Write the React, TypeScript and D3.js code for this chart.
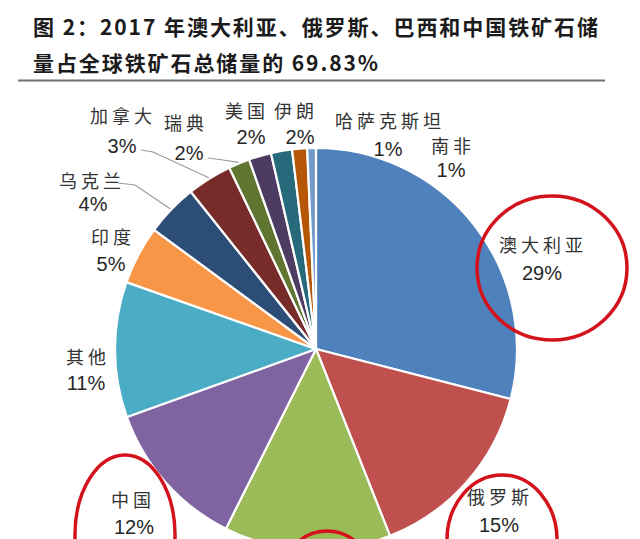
import React from "react";
import * as d3 from "d3";

// ---- data ----
const countries = ["澳大利亚", "俄罗斯", "巴西", "中国", "其他", "印度", "乌克兰", "加拿大", "瑞典", "美国", "伊朗", "哈萨克斯坦", "南非"];
const shares = [29, 15, 13.4, 12.1, 10.9, 4.7, 4.2, 3.6, 1.7, 1.8, 1.7, 1.2, 0.7];
const pctLabels = ["29%", "15%", "14%", "12%", "11%", "5%", "4%", "3%", "2%", "2%", "2%", "1%", "1%"];
const titleLines = ["图 2：2017 年澳大利亚、俄罗斯、巴西和中国铁矿石储", "量占全球铁矿石总储量的 69.83%"];
const highlighted = ["澳大利亚", "俄罗斯", "巴西", "中国"];

// ---- layout (not data) ----
const W = 640, H = 539;
const cx = 316, cy = 349, R = 201;
const colors = ["#4F81BD", "#C0504D", "#9BBB59", "#8064A2", "#4BACC6", "#F79646", "#2C4D75", "#772C2A", "#5F7530", "#4D3B62", "#276A7C", "#B65708", "#729ACA"];
// label placement: [x, nameBaseline, pctX, pctBaseline]
const labelPos: Record<string, number[] | null> = {
  "澳大利亚": [541, 252, 542, 280],
  "俄罗斯": [498, 504, 499, 532],
  "巴西": null,
  "中国": [131, 507, 134, 534],
  "其他": [86, 364, 86, 390],
  "印度": [111, 244, 111, 271],
  "乌克兰": [90, 188, 93, 211],
  "加拿大": [121, 123, 122, 153],
  "瑞典": [184, 130, 189, 160],
  "美国": [245, 118, 251, 144],
  "伊朗": [294, 118, 300, 144],
  "哈萨克斯坦": [388, 128, 388, 156],
  "南非": [451, 153, 451, 177],
};
// leader lines: start point, elbow, then to slice edge
const leaders: Record<string, number[]> = {
  "加拿大": [141, 150, 153, 152],
  "瑞典": [208, 158, 223, 160],
  "乌克兰": [118, 183, 135, 185],
};
const circles: Record<string, number[]> = {
  "澳大利亚": [552, 268, 75, 72],
  "俄罗斯": [502, 540, 55, 65],
  "巴西": [327, 585, 48, 54],
  "中国": [125, 535, 50, 80],
};

export default function App() {
  const data = countries.map((c, i) => ({ name: c, value: shares[i], pct: pctLabels[i], color: colors[i] }));
  const pie = d3.pie<any>().sort(null).value((d: any) => d.value).startAngle(0).endAngle(2 * Math.PI);
  const arcs = pie(data);
  const arc = d3.arc<any>().innerRadius(0).outerRadius(R);
  const edge = d3.arc<any>().innerRadius(R + 1).outerRadius(R + 1);

  const cjk = '"Noto Sans CJK SC", "Noto Sans CJK JP", sans-serif';
  const lat = '"Liberation Sans", Arial, sans-serif';
  const ls = 4;

  return (
    <svg width={W} height={H} style={{ position: "absolute", left: 0, top: 0, background: "#fff" }}>
      <rect x={0} y={0} width={W} height={H} fill="#fff" />
      <text x={33} y={35} fontFamily={cjk} fontWeight={700} fontSize={21} fill="#1b1b1b" textLength={565} lengthAdjust="spacing">{titleLines[0]}</text>
      <text x={33} y={71} fontFamily={cjk} fontWeight={700} fontSize={21} fill="#1b1b1b" textLength={345} lengthAdjust="spacing">{titleLines[1]}</text>
      <line x1={18} x2={605} y1={80.5} y2={80.5} stroke="#707070" strokeWidth={2} />

      <g transform={`translate(${cx},${cy})`}>
        {arcs.map((a, i) => (
          <path key={i} d={arc(a) as string} fill={a.data.color} stroke="#fff" strokeWidth={2.2} strokeLinejoin="round" />
        ))}
      </g>

      {arcs.map((a, i) => {
        const L = leaders[a.data.name];
        if (!L) return null;
        const [ex, ey] = edge.centroid(a);
        return (
          <polyline key={"l" + i} points={`${L[0]},${L[1]} ${L[2]},${L[3]} ${cx + ex},${cy + ey}`} fill="none" stroke="#9a9a9a" strokeWidth={1.2} />
        );
      })}

      {arcs.map((a, i) => {
        const p = labelPos[a.data.name];
        if (!p) return null;
        return (
          <g key={"t" + i}>
            <text x={p[0] + ls / 2} y={p[1]} textAnchor="middle" fontFamily={cjk} fontSize={18} letterSpacing={ls} fill="#333">{a.data.name}</text>
            <text x={p[2]} y={p[3]} textAnchor="middle" fontFamily={lat} fontSize={20} fill="#262626">{a.data.pct}</text>
          </g>
        );
      })}

      {highlighted.map((n) => {
        const c = circles[n];
        return <ellipse key={"c" + n} cx={c[0]} cy={c[1]} rx={c[2]} ry={c[3]} fill="none" stroke="#d3121c" strokeWidth={3.5} />;
      })}
    </svg>
  );
}
